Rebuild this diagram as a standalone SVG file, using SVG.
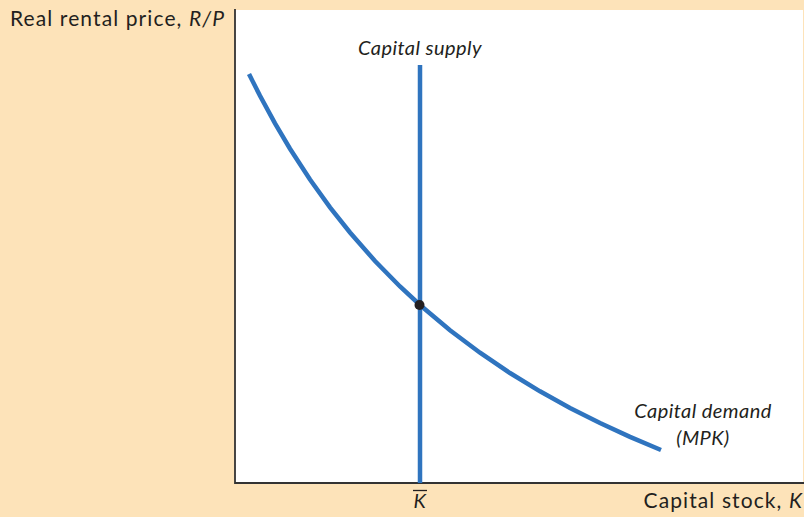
<svg xmlns="http://www.w3.org/2000/svg" width="804" height="517" viewBox="0 0 804 517">
<style>
.lbl{font-family:Lato,"Open Sans","Liberation Sans",sans-serif;font-size:21px;letter-spacing:1.1px;fill:#231f20}
.it{font-style:italic}
.itl{font-style:italic;font-size:20px;letter-spacing:0.45px}
.curve{fill:none;stroke:#2f74bf;stroke-width:4.5;stroke-linecap:butt}
.axis{fill:none;stroke:#333;stroke-width:1.8}
</style>
<rect x="0" y="0" width="804" height="517" fill="#fde3b9"/>
<rect x="235" y="10" width="568" height="473" fill="#ffffff"/>
<g id="axes">
<path class="axis" d="M235,9 V483 H804"/>
</g>
<g id="connectors">
<path id="capital-supply-line" class="curve" d="M420,65 V483"/>
<path id="capital-demand-curve" class="curve" d="M249,74 L260,95.8 L275,123.4 L290,148.7 L310,179.5 L330,207.3 L350,232.5 L375,261 L400,286.5 L420,305 L450,330.2 L480,352.7 L510,373 L540,391.3 L570,407.9 L600,423 L630,436.9 L661,450"/>
</g>
<g id="equilibrium">
<circle cx="419.5" cy="305" r="5" fill="#231f20"/>
</g>
<g id="y-label"><text class="lbl" x="10" y="26">Real rental price, <tspan class="it">R/P</tspan></text></g>
<g id="x-label"><text class="lbl" x="803" y="508" text-anchor="end">Capital stock, <tspan class="it">K</tspan></text></g>
<g id="supply-label"><text class="lbl itl" x="420" y="55" text-anchor="middle">Capital supply</text></g>
<g id="demand-label"><text class="lbl itl" x="703" y="418" text-anchor="middle">Capital demand</text><text class="lbl itl" x="703" y="445" text-anchor="middle">(MPK)</text></g>
<g id="kbar-label"><text class="lbl itl" x="420" y="508" text-anchor="middle">K</text><line x1="413" y1="490.5" x2="427" y2="490.5" stroke="#231f20" stroke-width="1.3"/></g>
</svg>
